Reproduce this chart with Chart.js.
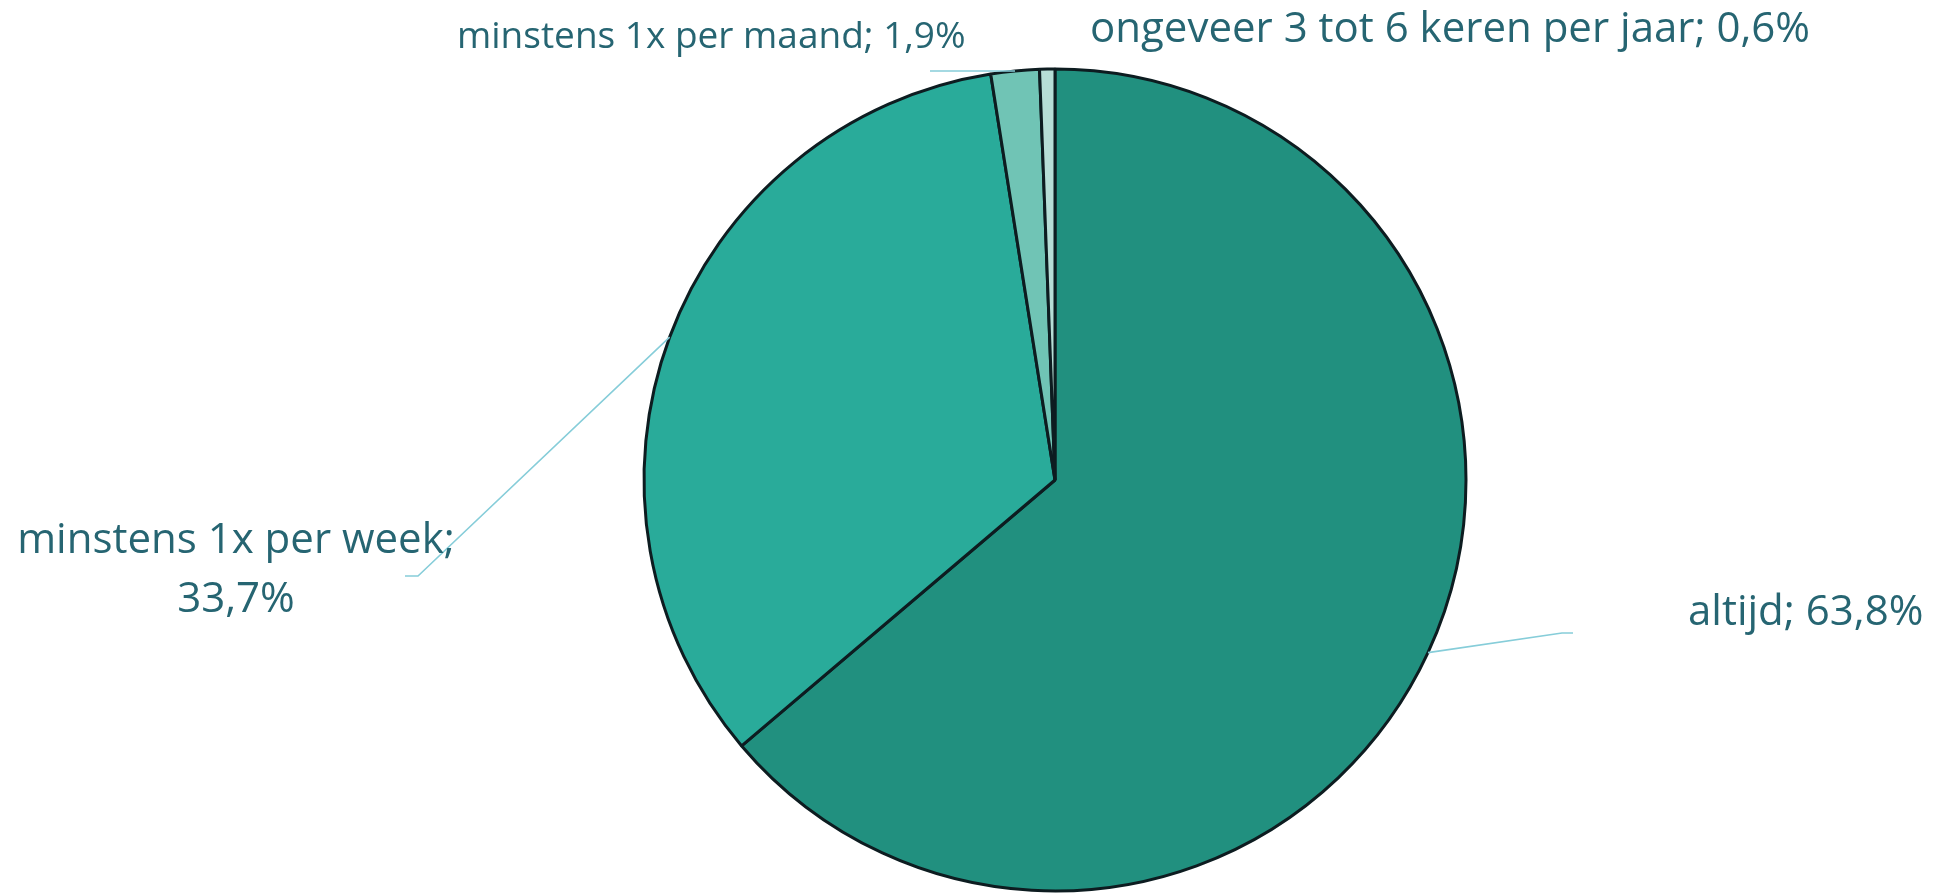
<!DOCTYPE html>
<html lang="nl">
<head>
<meta charset="utf-8">
<title>Frequentie</title>
<script src="https://cdn.jsdelivr.net/npm/chart.js@4/dist/chart.umd.min.js"></script>
<style>
    html, body { margin: 0; padding: 0; background: #ffffff; }
    canvas { display: block; }
</style>
</head>
<body>
<canvas id="pieChart" width="1933" height="894"></canvas>
<script>
const categories = ["altijd", "minstens 1x per week", "minstens 1x per maand", "ongeveer 3 tot 6 keren per jaar"];
const values = [63.8, 33.7, 1.9, 0.6];
const sliceColors = ["#21907f", "#29ab9a", "#70c4b5", "#b6ded6"];

const TEXT_COLOR = "#266572";
const LEADER_COLOR = "#86cdd9";

// label placement per slice: text anchor, line layout and elbow of the leader line
const labelLayout = [
    { lines: ["altijd; 63,8%"], x: 1688, y: 625, size: 42, align: "left", elbow: [1562, 633], end: [1573, 633] },
    { lines: ["minstens 1x per week;", "33,7%"], x: 236, y: 553, size: 42, align: "center", lineGap: 59, elbow: [418, 576], end: [405, 576] },
    { lines: ["minstens 1x per maand; 1,9%"], x: 457, y: 48, size: 37, align: "left", elbow: [940, 71], end: [930, 71] },
    { lines: ["ongeveer 3 tot 6 keren per jaar; 0,6%"], x: 1090, y: 42, size: 42, align: "left" },
];

const fmt = (v) => v.toFixed(1).replace(".", ",");

const pieLabels = {
    id: "pieLabels",
    afterDatasetsDraw(chart) {
        const ctx = chart.ctx;
        const arcs = chart.getDatasetMeta(0).data;
        arcs.forEach((arc, i) => {
            const layout = labelLayout[i];
            if (!layout) return;
            const { x, y, startAngle, endAngle, outerRadius } = arc.getProps(["x", "y", "startAngle", "endAngle", "outerRadius"], true);
            const mid = (startAngle + endAngle) / 2;
            if (layout.elbow) {
                ctx.save();
                ctx.strokeStyle = LEADER_COLOR;
                ctx.lineWidth = 1.6;
                ctx.beginPath();
                ctx.moveTo(x + Math.cos(mid) * outerRadius, y + Math.sin(mid) * outerRadius);
                ctx.lineTo(layout.elbow[0], layout.elbow[1]);
                ctx.lineTo(layout.end[0], layout.end[1]);
                ctx.stroke();
                ctx.restore();
            }
            ctx.save();
            ctx.fillStyle = TEXT_COLOR;
            ctx.font = `${layout.size}px "Open Sans", sans-serif`;
            ctx.textAlign = layout.align;
            ctx.textBaseline = "alphabetic";
            layout.lines.forEach((line, n) => {
                ctx.fillText(line, layout.x, layout.y + n * (layout.lineGap || 0));
            });
            ctx.restore();
        });
    },
};

const draw = () => {
    new Chart(document.getElementById("pieChart"), {
        type: "pie",
        data: {
            labels: categories,
            datasets: [{
                data: values,
                backgroundColor: sliceColors,
                borderColor: "#0d1c20",
                borderWidth: 3,
                clip: false,
            }],
        },
        options: {
            responsive: false,
            animation: false,
            devicePixelRatio: 1,
            radius: 411,
            layout: { padding: { left: 177, right: 0, top: 66, bottom: 0 } },
            plugins: {
                legend: { display: false },
                tooltip: { enabled: false },
            },
        },
        plugins: [pieLabels],
    });
};

document.fonts.load('42px "Open Sans"').then(draw, draw);
</script>
</body>
</html>
